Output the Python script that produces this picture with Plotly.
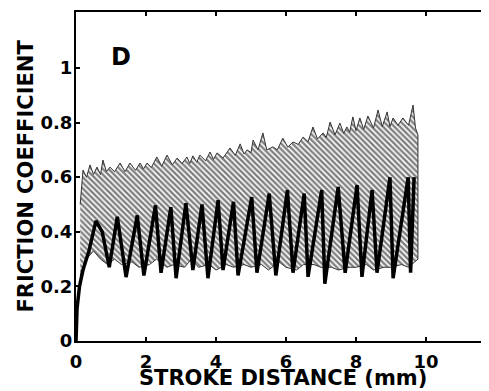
import plotly.graph_objects as go

# Gray band (dense oscillation): upper envelope with spikes
top_x = [0.12, 0.2, 0.3, 0.4, 0.5, 0.6, 0.7, 0.77, 0.87, 0.97, 1.1, 1.26, 1.4, 1.54, 1.7, 1.83, 1.93, 2.03,
         2.15, 2.31, 2.45, 2.6, 2.75, 2.89, 3.03, 3.17, 3.25, 3.34, 3.45, 3.54, 3.7, 3.83, 3.93, 4.03,
         4.2, 4.4, 4.55, 4.69, 4.8, 4.89, 5.0, 5.06, 5.2, 5.34, 5.45, 5.63, 5.75, 5.91, 6.05, 6.2,
         6.35, 6.49, 6.63, 6.77, 6.9, 7.06, 7.15, 7.26, 7.4, 7.54, 7.65, 7.74, 7.82, 7.91, 8.0, 8.11,
         8.22, 8.34, 8.5, 8.63, 8.75, 8.89, 8.97, 9.06, 9.2, 9.34, 9.5, 9.63, 9.7, 9.77]
top_y = [0.50, 0.626, 0.60, 0.645, 0.61, 0.637, 0.61, 0.663, 0.62, 0.637, 0.62, 0.652, 0.62, 0.652, 0.625, 0.652, 0.63, 0.652,
         0.635, 0.674, 0.64, 0.681, 0.645, 0.67, 0.65, 0.674, 0.65, 0.678, 0.655, 0.681, 0.66, 0.692, 0.665, 0.689,
         0.67, 0.707, 0.68, 0.722, 0.685, 0.70, 0.69, 0.736, 0.70, 0.762, 0.70, 0.711, 0.70, 0.743, 0.71, 0.729,
         0.72, 0.747, 0.73, 0.784, 0.74, 0.762, 0.745, 0.802, 0.755, 0.798, 0.76, 0.784, 0.765, 0.821, 0.77, 0.817,
         0.775, 0.824, 0.78, 0.846, 0.785, 0.839, 0.785, 0.817, 0.79, 0.817, 0.79, 0.864, 0.78, 0.755]

# Gray band lower boundary
bot_x = [0.12, 0.3, 0.5, 0.7, 0.9, 1.1, 1.3, 1.6, 1.8, 2.1, 2.3, 2.6, 2.8, 3.1, 3.3, 3.5, 3.8, 4.0, 4.3, 4.5,
         4.8, 5.0, 5.3, 5.5, 5.8, 6.0, 6.3, 6.5, 6.8, 7.0, 7.3, 7.5, 7.8, 8.0, 8.3, 8.5, 8.8, 9.0, 9.3, 9.5, 9.77]
bot_y = [0.24, 0.30, 0.33, 0.30, 0.28, 0.30, 0.28, 0.29, 0.27, 0.28, 0.30, 0.27, 0.28, 0.27, 0.30, 0.27, 0.28, 0.26, 0.28, 0.27,
         0.28, 0.27, 0.28, 0.26, 0.29, 0.27, 0.26, 0.28, 0.28, 0.27, 0.27, 0.26, 0.27, 0.27, 0.28, 0.26, 0.27, 0.27, 0.28, 0.27, 0.30]

# Black sawtooth trace (peaks and troughs)
blk_x = [0.0, 0.03, 0.1, 0.2, 0.37, 0.57, 0.75, 0.95, 1.18, 1.43, 1.75, 1.94, 2.27, 2.43, 2.71, 2.86, 3.14, 3.34,
         3.6, 3.77, 4.06, 4.2, 4.5, 4.63, 5.02, 5.17, 5.52, 5.71, 6.04, 6.2, 6.52, 6.63, 7.02, 7.11, 7.49, 7.69,
         8.03, 8.17, 8.46, 8.6, 8.97, 9.06, 9.49, 9.56, 9.66]
blk_y = [0.0, 0.12, 0.2, 0.26, 0.33, 0.44, 0.40, 0.27, 0.455, 0.234, 0.46, 0.24, 0.497, 0.25, 0.49, 0.23, 0.505, 0.26,
         0.50, 0.23, 0.516, 0.26, 0.51, 0.24, 0.527, 0.25, 0.54, 0.24, 0.553, 0.25, 0.54, 0.235, 0.553, 0.21, 0.564, 0.25,
         0.571, 0.235, 0.553, 0.25, 0.60, 0.23, 0.60, 0.25, 0.60]

x_ticks = [0, 2, 4, 6, 8, 10]
y_ticks = [0, 0.2, 0.4, 0.6, 0.8, 1]

FAM = "DejaVu Sans, Arial, sans-serif"

fig = go.Figure()

fig.add_trace(go.Scatter(
    x=top_x + bot_x[::-1], y=top_y + bot_y[::-1],
    mode="lines", fill="toself", line=dict(color="#333333", width=1),
    fillcolor="rgba(255,255,255,0)",
    fillpattern=dict(shape="\\", fgcolor="black", bgcolor="white", size=4, solidity=0.6),
    hoverinfo="skip", showlegend=False))

fig.add_trace(go.Scatter(
    x=blk_x, y=blk_y, mode="lines", line=dict(color="black", width=3.5),
    showlegend=False))

tick_font = dict(family=FAM, size=18, color="black")
title_font = dict(family=FAM, size=21, color="black")

# page has an 8px body margin: plot area at page x 76..489, y 12..341
L, R, T, B = 68, 8, 4, 58
plot_w = 489 - L - R
plot_h = 391 - T - B

fig.update_layout(
    width=489, height=391,
    margin=dict(l=L, r=R, t=T, b=B),
    paper_bgcolor="white", plot_bgcolor="white",
    annotations=[
        dict(x=1.29, y=1.04, xref="x", yref="y", text="<b>D</b>", showarrow=False,
             font=dict(family=FAM, size=24, color="black")),
        dict(x=0.5, y=-36.5 / plot_h, xref="paper", yref="paper", xanchor="center", yanchor="middle",
             text="<b>STROKE DISTANCE (mm)</b>", showarrow=False, font=title_font),
        dict(x=-51 / plot_w, y=0.5, xref="paper", yref="paper", xanchor="center", yanchor="middle",
             text="<b>FRICTION COEFFICIENT</b>", textangle=-90, showarrow=False, font=title_font),
    ],
)

fig.update_xaxes(range=[0, 11.8], tickvals=x_ticks, ticktext=["<b>%g</b>" % v for v in x_ticks],
                 showline=True, linecolor="black", linewidth=2, mirror="ticks",
                 ticks="inside", ticklen=4, tickwidth=2, tickcolor="black",
                 showgrid=False, zeroline=False, automargin=False, tickfont=tick_font,
                 ticklabelstandoff=3)
fig.update_yaxes(range=[0, 1.205], tickvals=y_ticks, ticktext=["<b>%g</b>" % v for v in y_ticks],
                 showline=True, linecolor="black", linewidth=2,
                 ticks="inside", ticklen=4, tickwidth=2, tickcolor="black",
                 showgrid=False, zeroline=False, automargin=False, tickfont=tick_font,
                 ticklabelstandoff=-2)

fig.write_html("out.html")
